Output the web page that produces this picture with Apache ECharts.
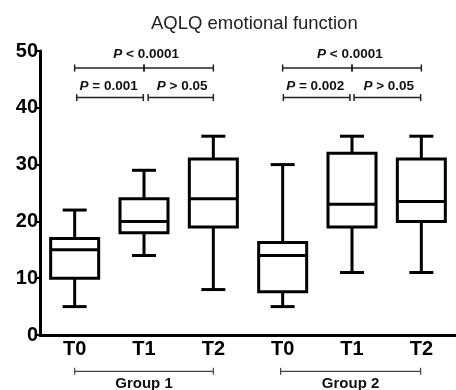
<!DOCTYPE html>
<html>
<head>
<meta charset="utf-8">
<script src="https://cdn.jsdelivr.net/npm/echarts@6/dist/echarts.min.js"></script>
<style>
  html, body { margin: 0; padding: 0; background: #fff; }
  #main { width: 456px; height: 390px; }
</style>
</head>
<body>
<div id="main"></div>
<script>
// box data, one entry per category
var categories = ['T0', 'T1', 'T2', 'T0', 'T1', 'T2'];
var boxMin    = [5, 14, 8, 5, 11, 11];
var boxQ1     = [10, 18, 19, 7.6, 19, 20];
var boxMedian = [15, 20, 24, 14, 23, 23.5];
var boxQ3     = [17, 24, 31, 16.3, 32, 31];
var boxMax    = [22, 29, 35, 30, 35, 35];
var yTicks    = [0, 10, 20, 30, 40, 50];

// significance brackets: [from, to, y]  (x in category units)
var brackets = [
    [0, 1, 47], [1, 2, 47], [3, 4, 47], [4, 5, 47],
    [0.03, 0.99, 41.8], [1.06, 2, 41.8], [3.01, 3.97, 41.8], [4.03, 4.99, 41.8]
];
var pTexts = ['P < 0.0001', 'P = 0.001', 'P > 0.05', 'P < 0.0001', 'P = 0.002', 'P > 0.05'];
var pX     = [1.03, 0.49, 1.55, 3.97, 3.47, 4.53];
var pY     = [49.4, 43.8, 43.8, 49.4, 43.8, 43.8];

// groups under the axis: [from, to, y]
var groupNames = ['Group 1', 'Group 2'];
var groupSpans = [[0, 2, -6.4], [2.97, 4.99, -6.4]];
var groupLabelY = -7.2;

var boxData = categories.map(function (c, i) {
    return [i, boxMin[i], boxQ1[i], boxMedian[i], boxQ3[i], boxMax[i]];
});

// category axis rounds fractions, so interpolate inside the band
function pos(api, x, y) {
    var i = Math.floor(x);
    var p = api.coord([i, y]);
    var bw = api.size([1, 0])[0];
    return [p[0] + (x - i) * bw, p[1]];
}

function renderBox(params, api) {
    var x = api.value(0);
    var pMin = api.coord([x, api.value(1)]);
    var pQ1 = api.coord([x, api.value(2)]);
    var pMed = api.coord([x, api.value(3)]);
    var pQ3 = api.coord([x, api.value(4)]);
    var pMax = api.coord([x, api.value(5)]);
    var hw = 24, cw = 12;
    var cx = pMin[0];
    var st = { stroke: '#000', lineWidth: 3, fill: null };
    return {
        type: 'group',
        children: [
            { type: 'line', shape: { x1: cx, y1: pMin[1], x2: cx, y2: pQ1[1] }, style: st },
            { type: 'line', shape: { x1: cx, y1: pQ3[1], x2: cx, y2: pMax[1] }, style: st },
            { type: 'line', shape: { x1: cx - cw, y1: pMin[1], x2: cx + cw, y2: pMin[1] }, style: st },
            { type: 'line', shape: { x1: cx - cw, y1: pMax[1], x2: cx + cw, y2: pMax[1] }, style: st },
            { type: 'rect', shape: { x: cx - hw, y: pQ3[1], width: hw * 2, height: pQ1[1] - pQ3[1] },
              style: { stroke: '#000', lineWidth: 3, fill: '#fff' } },
            { type: 'line', shape: { x1: cx - hw, y1: pMed[1], x2: cx + hw, y2: pMed[1] }, style: st }
        ]
    };
}

function bracketShapes(a, b, st) {
    return [
        { type: 'line', shape: { x1: a[0], y1: a[1], x2: b[0], y2: b[1] }, style: st },
        { type: 'line', shape: { x1: a[0], y1: a[1] - 3.5, x2: a[0], y2: a[1] + 3.5 }, style: st },
        { type: 'line', shape: { x1: b[0], y1: b[1] - 3.5, x2: b[0], y2: b[1] + 3.5 }, style: st }
    ];
}

function renderBracket(params, api) {
    var d = brackets[params.dataIndex];
    return {
        type: 'group',
        children: bracketShapes(pos(api, d[0], d[2]), pos(api, d[1], d[2]), { stroke: '#222', lineWidth: 1.5 })
    };
}

function renderPText(params, api) {
    var i = params.dataIndex;
    var p = pos(api, pX[i], pY[i]);
    var s = pTexts[i];
    return {
        type: 'text',
        x: p[0], y: p[1],
        style: {
            text: '{i|P}{n|' + s.slice(1) + '}',
            align: 'center', verticalAlign: 'middle',
            rich: {
                i: { fontFamily: 'Liberation Sans', fontWeight: 'bold', fontStyle: 'italic', fontSize: 13.5, fill: '#111' },
                n: { fontFamily: 'Liberation Sans', fontWeight: 'bold', fontSize: 13.5, fill: '#111' }
            }
        }
    };
}

function renderGroup(params, api) {
    var i = params.dataIndex;
    var d = groupSpans[i];
    var t = pos(api, (d[0] + d[1]) / 2, groupLabelY);
    var kids = bracketShapes(pos(api, d[0], d[2]), pos(api, d[1], d[2]), { stroke: '#444', lineWidth: 1.2 });
    kids.push({ type: 'text', x: t[0], y: t[1],
        style: { text: groupNames[i], align: 'center', verticalAlign: 'top',
                 fontFamily: 'Liberation Sans', fontWeight: 'bold', fontSize: 15, fill: '#111' } });
    return { type: 'group', children: kids };
}

var chart = echarts.init(document.getElementById('main'));
var option = {
    animation: false,
    title: {
        text: 'AQLQ emotional function',
        left: 146,
        top: 9,
        textStyle: { fontFamily: 'Liberation Sans', fontWeight: 'normal', fontSize: 18.5, color: '#222' }
    },
    grid: { left: 40, right: -10, top: 51, bottom: 55 },
    xAxis: {
        type: 'category',
        data: categories,
        axisLine: { lineStyle: { color: '#000', width: 3 } },
        axisTick: { alignWithLabel: true, length: 4, lineStyle: { color: '#000', width: 2 } },
        axisLabel: { color: '#000', fontFamily: 'Liberation Sans', fontWeight: 'bold', fontSize: 20, margin: 4 },
        splitLine: { show: false }
    },
    yAxis: {
        type: 'value',
        min: yTicks[0],
        max: yTicks[yTicks.length - 1],
        interval: 10,
        axisLine: { show: true, lineStyle: { color: '#000', width: 3 } },
        axisTick: { show: true, length: 4, lineStyle: { color: '#000', width: 2 } },
        axisLabel: { color: '#000', fontFamily: 'Liberation Sans', fontWeight: 'bold', fontSize: 20, margin: 2 },
        splitLine: { show: false }
    },
    series: [
        { type: 'custom', renderItem: renderBox, data: boxData, encode: { x: 0, y: [1, 2, 3, 4, 5] }, clip: false },
        { type: 'custom', renderItem: renderBracket, data: brackets.map(function (b) { return [0, b[2]]; }), clip: false },
        { type: 'custom', renderItem: renderPText, data: pX.map(function (x, i) { return [0, pY[i]]; }), clip: false },
        { type: 'custom', renderItem: renderGroup, data: groupSpans.map(function (g) { return [0, g[2]]; }), clip: false }
    ]
};
chart.setOption(option);
</script>
</body>
</html>
